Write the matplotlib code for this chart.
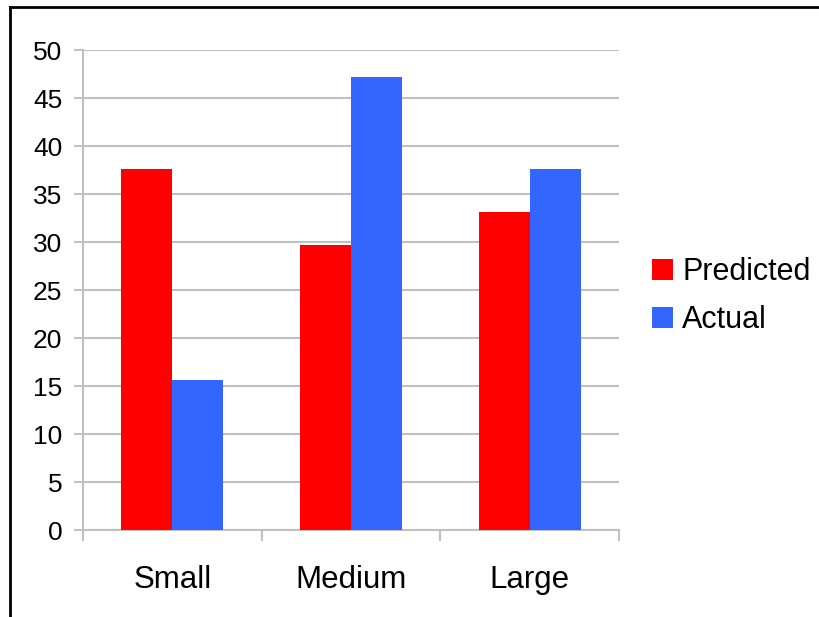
import matplotlib.pyplot as plt
import numpy as np

plt.rcParams['font.family'] = ['Liberation Sans', 'DejaVu Sans']

categories = ['Small', 'Medium', 'Large']
predicted = [37.6, 29.7, 33.1]
actual = [15.6, 47.2, 37.6]

fig = plt.figure(figsize=(8.2, 6.17), dpi=100)
ax = fig.add_axes([83 / 820, 1 - 530 / 617, 536 / 820, 480 / 617])

x = np.arange(len(categories))
w = 0.285
ax.bar(x - w / 2, predicted, w, color='#FF0000', label='Predicted', zorder=3)
ax.bar(x + w / 2, actual, w, color='#3366FF', label='Actual', zorder=3)

ax.set_xlim(-0.5, 2.5)
ax.set_ylim(0, 50)
ax.set_yticks(range(0, 51, 5))
ax.yaxis.grid(True, color='#C0C0C0', linewidth=1.5, zorder=0)
ax.tick_params(axis='y', length=6.5, width=1.5, color='#C0C0C0', labelsize=19, pad=8.5)

# category ticks sit on the group boundaries, labels in the middle
ax.set_xticks([-0.5, 0.5, 1.5, 2.5])
ax.set_xticklabels([])
ax.set_xticks(x, minor=True)
ax.set_xticklabels(categories, minor=True)
ax.tick_params(axis='x', which='major', length=8, width=1.5, color='#C0C0C0')
ax.tick_params(axis='x', which='minor', length=0, labelsize=22.5, pad=25.5)

for s in ['top', 'right']:
    ax.spines[s].set_visible(False)
for s in ['left', 'bottom']:
    ax.spines[s].set_color('#C0C0C0')
    ax.spines[s].set_linewidth(1.5)

fig.legend(loc='center left', bbox_to_anchor=(631 / 820, 1 - 296 / 617),
           frameon=False, fontsize=22, handlelength=0.68, handleheight=0.68,
           handletextpad=0.3, labelspacing=0.6, borderpad=0.2)

# outer frame: only the top and left edges show in the saved area
fig.add_artist(plt.Line2D([10 / 820, 10 / 820], [0, 1 - 7 / 617],
                          transform=fig.transFigure, color='black', linewidth=2))
fig.add_artist(plt.Line2D([10 / 820, 1], [1 - 7 / 617, 1 - 7 / 617],
                          transform=fig.transFigure, color='black', linewidth=2))

fig.savefig('out.png', dpi=100)
